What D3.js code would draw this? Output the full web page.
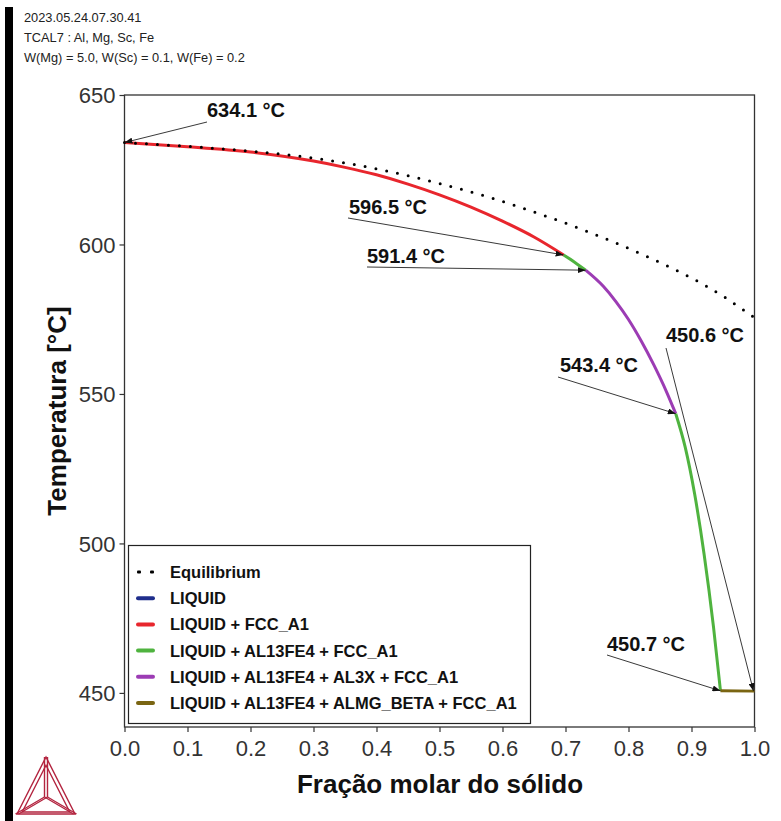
<!DOCTYPE html>
<html><head><meta charset="utf-8">
<script src="https://cdn.jsdelivr.net/npm/d3@7"></script>
<style>
html,body{margin:0;padding:0;background:#fff;}
svg{display:block;font-family:"Liberation Sans",Arial,sans-serif;}
</style></head>
<body>
<svg id="chart" width="781" height="821"></svg>
<script>
// ---------------- DATA ----------------
const headerLines = ["2023.05.24.07.30.41", "TCAL7 : Al, Mg, Sc, Fe", "W(Mg) = 5.0, W(Sc) = 0.1, W(Fe) = 0.2"];
const xTicks = [0.0, 0.1, 0.2, 0.3, 0.4, 0.5, 0.6, 0.7, 0.8, 0.9, 1.0];
const yTicks = [450, 500, 550, 600, 650];
const xTitle = "Fração molar do sólido";
const yTitle = "Temperatura [°C]";

const eqFs = [0, 0.1, 0.2, 0.3, 0.4, 0.5, 0.58, 0.63, 0.69, 0.74, 0.83, 0.9, 0.95, 0.99, 1.0];
const eqT  = [634.1, 632.8, 631.2, 628.9, 625.3, 620.4, 615.7, 612.3, 607.9, 603.9, 595.9, 588.8, 582.7, 577.0, 575.5];

const fccFs = [0, 0.1, 0.2, 0.3, 0.35, 0.4, 0.45, 0.5, 0.55, 0.6, 0.65, 0.697];
const fccT  = [634.1, 632.7, 630.9, 627.9, 625.8, 623.3, 620.2, 616.6, 612.5, 607.8, 602.5, 596.5];

const al13Fs = [0.697, 0.715, 0.732];
const al13T  = [596.5, 594.0, 591.4];

const al3xFs = [0.732, 0.76, 0.78, 0.8, 0.82, 0.84, 0.86, 0.875];
const al3xT  = [591.4, 586.0, 580.9, 574.9, 567.8, 559.8, 550.9, 543.4];

const al13bFs = [0.875, 0.89, 0.905, 0.92, 0.935, 0.946];
const al13bT  = [543.4, 532.2, 516.5, 496.4, 471.9, 450.7];

const betaFs = [0.946, 1.0];
const betaT  = [450.7, 450.6];

const legendLabels = ["Equilibrium", "LIQUID", "LIQUID + FCC_A1", "LIQUID + AL13FE4 + FCC_A1", "LIQUID + AL13FE4 + AL3X + FCC_A1", "LIQUID + AL13FE4 + ALMG_BETA + FCC_A1"];
const legendColors = ["#000000", "#1f2e8c", "#e8262d", "#4fb33f", "#9c3cb4", "#7a6512"];

const annFs = [0, 0.697, 0.732, 0.875, 1.0, 0.946];
const annT  = [634.1, 596.5, 591.4, 543.4, 450.6, 450.7];
const annText = ["634.1 °C", "596.5 °C", "591.4 °C", "543.4 °C", "450.6 °C", "450.7 °C"];

// ---------------- LAYOUT ----------------
const W = 781, H = 821;
const plot = {left: 124.5, right: 754.5, top: 95, bottom: 727};
const yMin = 438.6, yMax = 650;
// label anchor (pixel) positions for annotations
const annLayout = [
  {tx: 207, ty: 117, lx: 207, ly: 122},
  {tx: 349, ty: 214, lx: 348, ly: 218},
  {tx: 367, ty: 263, lx: 367, ly: 267},
  {tx: 560, ty: 372, lx: 558, ly: 377},
  {tx: 666, ty: 342, lx: 666, ly: 348},
  {tx: 607, ty: 651, lx: 607, ly: 655}
];

const svg = d3.select("#chart");
const x = d3.scaleLinear().domain([0, 1]).range([plot.left, plot.right]);
const y = d3.scaleLinear().domain([yMin, yMax]).range([plot.bottom, plot.top]);

// left black bar
svg.append("rect").attr("x", 5).attr("y", 7).attr("width", 8).attr("height", H - 7).attr("fill", "#000");

// header
svg.append("g").selectAll("text").data(headerLines).join("text")
  .attr("x", 24).attr("y", (d, i) => 22 + i * 20)
  .attr("font-size", 12.8).attr("fill", "#222").text(d => d);

// axes
const gx = svg.append("g").attr("transform", `translate(0,${plot.bottom})`)
  .call(d3.axisBottom(x).tickValues(xTicks).tickFormat(d3.format(".1f")).tickSize(5).tickPadding(8));
const gy = svg.append("g").attr("transform", `translate(${plot.left},0)`)
  .call(d3.axisLeft(y).tickValues(yTicks).tickSize(5).tickPadding(4));
[gx, gy].forEach(g => {
  g.select(".domain").remove();
  g.selectAll(".tick line").attr("stroke", "#333").attr("stroke-width", 1.2);
  g.selectAll(".tick text").attr("font-size", 22).attr("fill", "#333")
    .attr("font-family", "'Liberation Sans', Arial, sans-serif");
});
gy.selectAll(".tick text").attr("dy", "0.36em");

// frame
svg.append("rect").attr("x", plot.left).attr("y", plot.top)
  .attr("width", plot.right - plot.left).attr("height", plot.bottom - plot.top)
  .attr("fill", "none").attr("stroke", "#333").attr("stroke-width", 1.3);

// titles
svg.append("text").attr("x", 440).attr("y", 793).attr("text-anchor", "middle")
  .attr("font-size", 26).attr("font-weight", "bold").attr("fill", "#111").text(xTitle);
svg.append("text").attr("transform", "translate(66,411) rotate(-90)").attr("text-anchor", "middle")
  .attr("font-size", 26).attr("font-weight", "bold").attr("fill", "#111").text(yTitle);

// curves
const line = d3.line().x(d => x(d[0])).y(d => y(d[1])).curve(d3.curveMonotoneX);
const segs = [
  [fccFs, fccT, legendColors[2]],
  [al13Fs, al13T, legendColors[3]],
  [al3xFs, al3xT, legendColors[4]],
  [al13bFs, al13bT, legendColors[3]],
  [betaFs, betaT, legendColors[5]]
];
const gl = svg.append("g");
segs.forEach(([fs, t, c]) => {
  gl.append("path").datum(fs.map((f, i) => [f, t[i]])).attr("d", line)
    .attr("fill", "none").attr("stroke", c).attr("stroke-width", 3).attr("stroke-linejoin", "round");
});
gl.append("path").datum(eqFs.map((f, i) => [f, eqT[i]])).attr("d", line)
  .attr("fill", "none").attr("stroke", "#000").attr("stroke-width", 3)
  .attr("stroke-dasharray", "0 11").attr("stroke-linecap", "round");

// arrow marker
svg.append("defs").append("marker").attr("id", "arr")
  .attr("viewBox", "0 0 8 6").attr("refX", 8).attr("refY", 3)
  .attr("markerWidth", 8).attr("markerHeight", 6).attr("markerUnits", "userSpaceOnUse")
  .attr("orient", "auto")
  .append("path").attr("d", "M0,0 L8,3 L0,6 Z").attr("fill", "#111");

// annotations
const ga = svg.append("g");
annText.forEach((t, i) => {
  const L = annLayout[i];
  ga.append("line").attr("x1", L.lx).attr("y1", L.ly)
    .attr("x2", x(annFs[i]) - (annFs[i] === 1 ? 1 : 0)).attr("y2", y(annT[i]))
    .attr("stroke", "#222").attr("stroke-width", 0.9).attr("marker-end", "url(#arr)");
  ga.append("text").attr("x", L.tx).attr("y", L.ty).attr("font-size", 20)
    .attr("font-weight", "bold").attr("fill", "#111").text(t);
});

// legend
const lg = svg.append("g");
lg.append("rect").attr("x", 128.5).attr("y", 545.5).attr("width", 402).attr("height", 178)
  .attr("fill", "#fff").attr("stroke", "#222").attr("stroke-width", 1.2);
legendLabels.forEach((lab, i) => {
  const ly = 572 + i * 26.2;
  if (i === 0) {
    [139, 152].forEach(cxp => lg.append("rect").attr("x", cxp - 2).attr("y", ly - 1.5)
      .attr("width", 4).attr("height", 3).attr("rx", 1).attr("fill", "#000"));
  } else {
    lg.append("line").attr("x1", 138).attr("x2", 153)
      .attr("y1", ly).attr("y2", ly).attr("stroke", legendColors[i])
      .attr("stroke-width", 4).attr("stroke-linecap", "round");
  }
  lg.append("text").attr("x", 170).attr("y", ly).attr("dy", "0.36em")
    .attr("font-size", 16.5).attr("font-weight", "bold").attr("fill", "#111").text(lab);
});

// logo (Thermo-Calc style triangle)
const logo = svg.append("g").attr("fill", "none").attr("stroke", "#b3243f").attr("stroke-width", 1.4)
  .attr("stroke-linejoin", "miter");
const cx = 46, cyc = 797;
const P = [[46, 757], [17, 814], [75, 814]];
logo.append("path").attr("d", `M${P[0]}L${P[1]}L${P[2]}Z`);
const inner = P.map(p => [cx + (p[0] - cx) * 0.82, cyc + (p[1] - cyc) * 0.82 + 1]);
logo.append("path").attr("d", `M${inner[0]}L${inner[1]}L${inner[2]}Z`);
P.forEach(p => {
  logo.append("line").attr("x1", cx - 1.5).attr("y1", cyc).attr("x2", p[0] - 1.5).attr("y2", p[1]);
  logo.append("line").attr("x1", cx + 1.5).attr("y1", cyc).attr("x2", p[0] + 1.5).attr("y2", p[1]);
});
</script>
</body></html>
